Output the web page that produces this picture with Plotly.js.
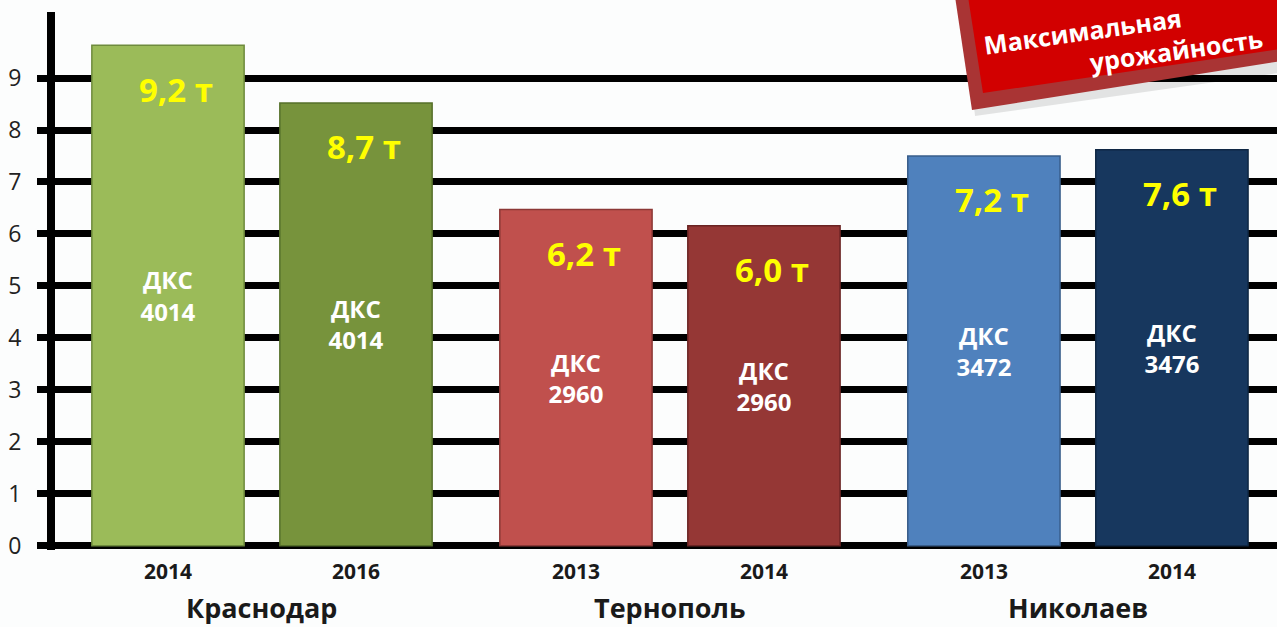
<!DOCTYPE html>
<html>
<head>
<meta charset="utf-8">
<script src="https://cdn.plot.ly/plotly-3.0.1.min.js"></script>
<style>
  html, body { margin: 0; padding: 0; background: #ffffff; }
  #chart { width: 1277px; height: 627px; }
</style>
</head>
<body>
<div id="chart"></div>
<script>
// ---- data ----
const cities = ['Краснодар', 'Тернополь', 'Николаев'];
const barCity = [0, 0, 1, 1, 2, 2];
const barSlot = [0, 1, 0, 1, 0, 1];
const years = ['2014', '2016', '2013', '2014', '2013', '2014'];
const barHeights = [9.63, 8.52, 6.47, 6.16, 7.50, 7.62];
const yieldLabels = ['9,2 т', '8,7 т', '6,2 т', '6,0 т', '7,2 т', '7,6 т'];
const hybrids = ['4014', '4014', '2960', '2960', '3472', '3476'];
const yTicks = [0, 1, 2, 3, 4, 5, 6, 7, 8, 9];
const bannerLines = ['Максимальная', 'урожайность'];

// ---- styles ----
const fills = ['#9BBB59', '#77933C', '#C0504D', '#953735', '#4F81BD', '#17375E'];
const outlines = ['#6E8B3D', '#55702A', '#8C3836', '#6A2423', '#385D8A', '#0F2744'];
const FONT = 'Open Sans, Noto Sans, DejaVu Sans, sans-serif';
const GROUP_STEP = 2.17;

const xPos = barCity.map((g, i) => g * GROUP_STEP + barSlot[i]);
const cityCenters = cities.map((c, g) => {
  const xs = xPos.filter((x, i) => barCity[i] === g);
  return xs.reduce((a, b) => a + b, 0) / xs.length;
});

const trace = {
  type: 'bar',
  x: xPos,
  y: barHeights,
  width: 0.81,
  marker: { color: fills, line: { color: outlines, width: 1.5 } },
  text: hybrids.map(h => 'ДКС<br>' + h),
  textposition: 'inside',
  insidetextanchor: 'middle',
  textangle: 0,
  textfont: { family: FONT, size: 24, color: '#ffffff', weight: 700 },
  hoverinfo: 'none',
  cliponaxis: false
};

const annotations = [];
xPos.forEach((x, i) => {
  annotations.push({
    x: x, y: barHeights[i], xref: 'x', yref: 'y',
    text: yieldLabels[i], showarrow: false,
    xshift: 8, yshift: -44, yanchor: 'middle',
    font: { family: FONT, size: 33, color: '#FFFF00', weight: 700 }
  });
});
cities.forEach((c, g) => {
  annotations.push({
    x: cityCenters[g], xref: 'x', y: -0.106, yref: 'paper',
    text: c, showarrow: false, yanchor: 'middle',
    font: { family: FONT, size: 27, color: '#1a1a1a', weight: 700 }
  });
});

// banner geometry (pixel helpers -> paper units)
const L = 55, R = 0, T = 12, B = 77, W = 1277, H = 627;
const pw = W - L - R, ph = H - T - B;
const px = v => (v - L) / pw;
const py = v => (H - B - v) / ph;
function poly(pts) {
  return 'M' + pts.map(p => px(p[0]).toFixed(4) + ',' + py(p[1]).toFixed(4)).join(' L') + ' Z';
}

annotations.push({
  x: px(1082), y: py(31), xref: 'paper', yref: 'paper',
  xanchor: 'center', yanchor: 'middle', textangle: -8,
  text: bannerLines[0], showarrow: false,
  font: { family: FONT, size: 25, color: '#ffffff', weight: 700 }
});
annotations.push({
  x: px(1176), y: py(50), xref: 'paper', yref: 'paper',
  xanchor: 'center', yanchor: 'middle', textangle: -8,
  text: bannerLines[1], showarrow: false,
  font: { family: FONT, size: 25, color: '#ffffff', weight: 700 }
});

const shapes = [
  { type: 'path', xref: 'paper', yref: 'paper', layer: 'above',
    path: poly([[960, -10], [1300, -10], [1300, 70], [975, 116]]),
    fillcolor: 'rgba(0,0,0,0.10)', line: { width: 0 } },
  { type: 'path', xref: 'paper', yref: 'paper', layer: 'above',
    path: poly([[954, -10], [1300, -10], [1300, 58], [972, 110]]),
    fillcolor: '#A93434', line: { width: 0 } },
  { type: 'path', xref: 'paper', yref: 'paper', layer: 'above',
    path: poly([[967, -10], [1300, -10], [1300, 46], [983, 93]]),
    fillcolor: '#D20000', line: { width: 0 } }
];

const layout = {
  width: W, height: H,
  margin: { l: L, r: R, t: T, b: B },
  paper_bgcolor: '#fcfdfd',
  plot_bgcolor: 'rgba(0,0,0,0)',
  showlegend: false,
  font: { family: FONT, color: '#222222' },
  xaxis: {
    range: [-0.601, 5.899],
    tickvals: xPos, ticktext: years,
    ticks: '', showgrid: false, zeroline: false, showline: false,
    tickfont: { family: FONT, size: 21, color: '#1a1a1a', weight: 700 },
    ticklabelstandoff: 7,
    fixedrange: true
  },
  yaxis: {
    range: [-0.08, 10.27],
    tickvals: yTicks,
    ticks: 'outside', ticklen: 10, tickwidth: 7, tickcolor: '#000000',
    showgrid: true, gridcolor: '#000000', gridwidth: 7,
    zeroline: true, zerolinecolor: '#000000', zerolinewidth: 7,
    showline: true, linecolor: '#000000', linewidth: 8,
    tickfont: { family: FONT, size: 23, color: '#222222' },
    ticklabelstandoff: 11,
    fixedrange: true
  },
  annotations: annotations,
  shapes: shapes
};

Plotly.newPlot('chart', [trace], layout, { displayModeBar: false, staticPlot: true });
</script>
</body>
</html>
